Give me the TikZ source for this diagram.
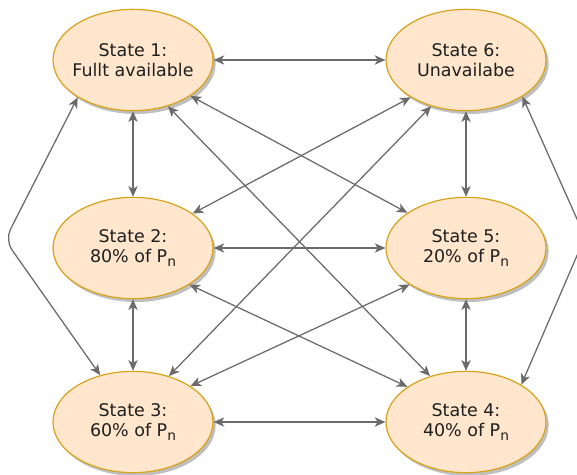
\documentclass[tikz,border=0pt]{standalone}
\usepackage{fontspec}
\setmainfont{DejaVu Sans}
\usetikzlibrary{arrows.meta,shadows,shapes.geometric}
\definecolor{stfill}{HTML}{FFE6CC}
\definecolor{stline}{HTML}{D9A21B}
\definecolor{edgegray}{HTML}{6B6B6B}
% P with a lowered small n
\newcommand{\Pn}{P\raisebox{-0.45ex}{\fontsize{10.3}{10}\selectfont n}}

\begin{document}
\begin{tikzpicture}[x=0.75pt,y=-0.75pt,
  state/.style={ellipse, draw=stline, line width=0.9pt, fill=stfill,
    minimum width=120pt, minimum height=76pt, inner xsep=-12pt, inner ysep=0pt,
    align=center,
    font=\fontsize{13.1}{14.8}\selectfont, text=black!88,
    drop shadow={shadow xshift=2pt, shadow yshift=-2.5pt, opacity=0.25, fill=black}},
  link/.style={draw=edgegray, line width=0.95pt,
    {Stealth[length=8pt,width=7pt,inset=2.2pt]}-{Stealth[length=8pt,width=7pt,inset=2.2pt]}},
]
\useasboundingbox (0,0) rectangle (577,474);

% the six states
\node[state] (s1) at (133,60)  {State 1:\\Fullt available};
\node[state] (s6) at (466,60)  {State 6:\\Unavailabe};
\node[state] (s2) at (133,248) {State 2:\\80\% of \Pn};
\node[state] (s5) at (466,248) {State 5:\\20\% of \Pn};
\node[state] (s3) at (133,422) {State 3:\\60\% of \Pn};
\node[state] (s4) at (466,422) {State 4:\\40\% of \Pn};

% horizontal and vertical transitions
\draw[link] (s1.east) -- (s6.west);
\draw[link] (s2.east) -- (s5.west);
\draw[link] (s3.east) -- (s4.west);
\draw[link] (s1.south) -- (s2.north);
\draw[link] (s2.south) -- (s3.north);
\draw[link] (s6.south) -- (s5.north);
\draw[link] (s5.south) -- (s4.north);

% diagonal transitions
\draw[link] (s1.-32) -- (s5.149);
\draw[link] (s1.-53) -- (s4.128);
\draw[link] (s6.214) -- (s2.30);
\draw[link] (s6.233) -- (s3.52);
\draw[link] (s2.-33) -- (s4.149);
\draw[link] (s5.213) -- (s3.32);

% outer transitions around the sides
\draw[link, rounded corners=9pt] (s1.214) -- (5,240) -- (s3.125);
\draw[link, rounded corners=9pt] (s6.-33) -- (585,237) -- (s4.34);
\end{tikzpicture}
\end{document}
